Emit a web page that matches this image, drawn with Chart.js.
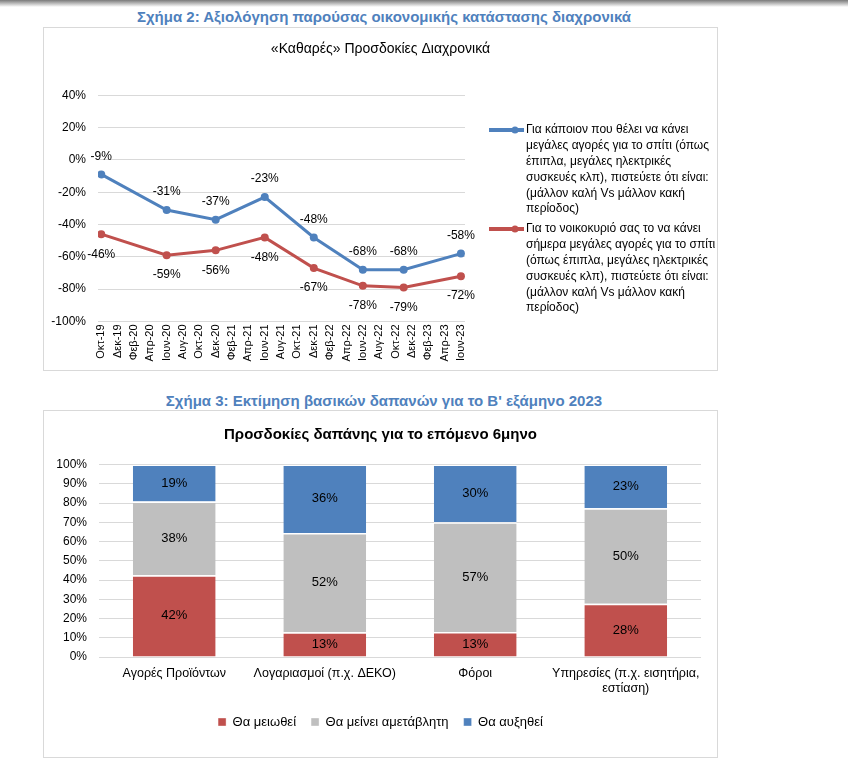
<!DOCTYPE html>
<html>
<head>
<meta charset="utf-8">
<script src="https://cdn.jsdelivr.net/npm/chart.js@4.4.1/dist/chart.umd.min.js"></script>
<style>
html,body{margin:0;padding:0;background:#fff;width:848px;height:768px;overflow:hidden;font-family:"Liberation Sans",Arial,sans-serif;}
.topbar{position:absolute;left:0;top:0;width:848px;height:7px;background:linear-gradient(#7a7a7a,#ffffff);}
.fig{position:absolute;left:43px;width:682px;text-align:center;color:#4F81BD;font-weight:bold;font-size:15px;line-height:17px;white-space:nowrap;}
.box{position:absolute;left:43px;width:675px;border:1px solid #D9D9D9;box-sizing:border-box;background:#fff;}
.box canvas{position:absolute;left:-1px;top:-1px;}
</style>
</head>
<body>
<div class="topbar"></div>
<div class="fig" style="top:8px">Σχήμα 2: Αξιολόγηση παρούσας οικονομικής κατάστασης διαχρονικά</div>
<div class="box" style="top:27px;height:344px"><canvas id="lineChart" width="675" height="344" style="width:675px;height:344px"></canvas></div>
<div class="fig" style="top:392px">Σχήμα 3: Εκτίμηση βασικών δαπανών για το Β' εξάμηνο 2023</div>
<div class="box" style="top:410px;height:348px"><canvas id="barChart" width="675" height="348" style="width:675px;height:348px"></canvas></div>
<script>
// ---------- Line chart data ----------
const lineTitle = '«Καθαρές» Προσδοκίες Διαχρονικά';
const axisMonthLabels = ['Οκτ-19','Δεκ-19','Φεβ-20','Απρ-20','Ιουν-20','Αυγ-20','Οκτ-20','Δεκ-20','Φεβ-21','Απρ-21','Ιουν-21','Αυγ-21','Οκτ-21','Δεκ-21','Φεβ-22','Απρ-22','Ιουν-22','Αυγ-22','Οκτ-22','Δεκ-22','Φεβ-23','Απρ-23','Ιουν-23'];
const axisStartDate = '2019-10';
const surveyDates = ['2019-10','2020-06','2020-12','2021-06','2021-12','2022-06','2022-11','2023-06'];
const someoneBuying = [-9,-31,-37,-23,-48,-68,-68,-58];
const householdBuying = [-46,-59,-56,-48,-67,-78,-79,-72];
const lineYTicks = [40,20,0,-20,-40,-60,-80,-100];
const legendSomeone = ['Για κάποιον που θέλει να κάνει','μεγάλες αγορές για το σπίτι (όπως','έπιπλα, μεγάλες ηλεκτρικές','συσκευές κλπ), πιστεύετε ότι είναι:','(μάλλον καλή Vs μάλλον κακή','περίοδος)'];
const legendHousehold = ['Για το νοικοκυριό σας το να κάνει','σήμερα μεγάλες αγορές για το σπίτι','(όπως έπιπλα, μεγάλες ηλεκτρικές','συσκευές κλπ), πιστεύετε ότι είναι:','(μάλλον καλή Vs μάλλον κακή','περίοδος)'];

// ---------- Bar chart data ----------
const barTitle = 'Προσδοκίες δαπάνης για το επόμενο 6μηνο';
const spendCategories = ['Αγορές Προϊόντων','Λογαριασμοί (π.χ. ΔΕΚΟ)','Φόροι',['Υπηρεσίες (π.χ. εισητήρια,','εστίαση)']];
const seriesNames = ['Θα μειωθεί','Θα μείνει αμετάβλητη','Θα αυξηθεί'];
const willDecrease = [42,13,13,28];
const willStaySame = [38,52,57,50];
const willIncrease = [19,36,30,23];

const BLUE = '#4F81BD', RED = '#C0504D', GREY = '#BFBFBF';
const FONT = '"Liberation Sans", Arial, sans-serif';
Chart.defaults.font.family = FONT;
Chart.defaults.color = '#000';
Chart.defaults.animation = false;

function monthsSince(start, d) {
  const [y0,m0] = start.split('-').map(Number);
  const [y,m] = d.split('-').map(Number);
  return (y - y0) * 12 + (m - m0);
}
const surveyX = surveyDates.map(d => monthsSince(axisStartDate, d));
const tickX = axisMonthLabels.map((_, i) => i * 2);

const spacerAxis = w => ({
  position: 'right', display: true,
  grid: {display: false, drawTicks: false}, border: {display: false},
  ticks: {display: false}, afterFit: s => { s.width = w; }
});

const lineLabelPlugin = {
  id: 'lineLabels',
  afterDatasetsDraw(chart) {
    const ctx = chart.ctx;
    ctx.save();
    ctx.font = '12px ' + FONT;
    ctx.fillStyle = '#000';
    ctx.textAlign = 'center';
    ctx.textBaseline = 'middle';
    chart.data.datasets.forEach((ds, di) => {
      const meta = chart.getDatasetMeta(di);
      meta.data.forEach((pt, i) => {
        const off = di === 0 ? -18 : 20;
        ctx.fillText(ds.data[i].y + '%', pt.x, pt.y + off);
      });
    });
    ctx.restore();
  }
};

const sideLegendPlugin = {
  id: 'sideLegend',
  afterDraw(chart) {
    const ctx = chart.ctx;
    const x0 = chart.chartArea.right + 24;
    const groups = [
      {color: BLUE, lines: legendSomeone, top: 103},
      {color: RED, lines: legendHousehold, top: 202}
    ];
    ctx.save();
    ctx.font = '12px ' + FONT;
    ctx.textBaseline = 'middle';
    ctx.textAlign = 'left';
    groups.forEach(g => {
      ctx.strokeStyle = g.color;
      ctx.lineWidth = 4;
      ctx.beginPath();
      ctx.moveTo(x0, g.top);
      ctx.lineTo(x0 + 35, g.top);
      ctx.stroke();
      ctx.fillStyle = g.color;
      ctx.beginPath();
      ctx.arc(x0 + 26, g.top, 3.5, 0, Math.PI * 2);
      ctx.fill();
      ctx.fillStyle = '#000';
      g.lines.forEach((t, i) => ctx.fillText(t, x0 + 37, g.top + i * 15.8));
    });
    ctx.restore();
  }
};

new Chart(document.getElementById('lineChart'), {
  type: 'line',
  data: {
    datasets: [
      {label: legendSomeone.join(' '), data: surveyX.map((x, i) => ({x, y: someoneBuying[i]})), borderColor: BLUE, backgroundColor: BLUE, borderWidth: 3, pointRadius: 4, pointBorderWidth: 0, pointBackgroundColor: BLUE, tension: 0},
      {label: legendHousehold.join(' '), data: surveyX.map((x, i) => ({x, y: householdBuying[i]})), borderColor: RED, backgroundColor: RED, borderWidth: 3, pointRadius: 4, pointBorderWidth: 0, pointBackgroundColor: RED, tension: 0}
    ]
  },
  options: {
    responsive: false,
    layout: {padding: 0},
    plugins: {
      legend: {display: false},
      tooltip: {enabled: false},
      title: {display: true, text: lineTitle, font: {size: 14, weight: 'normal'}, color: '#000', padding: {top: 13.6, bottom: 37.9}}
    },
    scales: {
      x: {
        type: 'linear', min: -0.4, max: 44.5,
        afterBuildTicks: s => { s.ticks = tickX.map(v => ({value: v})); },
        afterFit: s => { s.height = 49.6; },
        grid: {display: false, drawTicks: false},
        border: {display: false},
        ticks: {autoSkip: false, minRotation: 90, maxRotation: 90, padding: 3, font: {size: 11}, color: '#000',
          callback: v => axisMonthLabels[Math.round(v / 2)]}
      },
      y: {
        min: -100, max: 40,
        afterBuildTicks: s => { s.ticks = lineYTicks.map(v => ({value: v})); },
        afterFit: s => { s.width = 55; },
        grid: {color: '#D9D9D9', drawTicks: false},
        border: {display: false},
        ticks: {padding: 12, font: {size: 12}, color: '#000', callback: v => v + '%'}
      },
      yRightSpace: spacerAxis(253)
    }
  },
  plugins: [lineLabelPlugin, sideLegendPlugin]
});

// ---------- Bar chart ----------
const totals = willDecrease.map((v, i) => v + willStaySame[i] + willIncrease[i]);
const share = arr => arr.map((v, i) => v / totals[i] * 100);
const rawSeries = [willDecrease, willStaySame, willIncrease];

const barLabelPlugin = {
  id: 'barLabels',
  afterDatasetsDraw(chart) {
    const ctx = chart.ctx;
    ctx.save();
    ctx.font = '13px ' + FONT;
    ctx.fillStyle = '#000';
    ctx.textAlign = 'center';
    ctx.textBaseline = 'middle';
    chart.data.datasets.forEach((ds, di) => {
      chart.getDatasetMeta(di).data.forEach((bar, i) => {
        const p = bar.getProps(['x', 'y', 'base'], true);
        ctx.fillText(rawSeries[di][i] + '%', p.x, (p.y + p.base) / 2);
      });
    });
    ctx.restore();
  }
};

new Chart(document.getElementById('barChart'), {
  type: 'bar',
  data: {
    labels: spendCategories,
    datasets: [
      {label: seriesNames[0], data: share(willDecrease), backgroundColor: RED},
      {label: seriesNames[1], data: share(willStaySame), backgroundColor: GREY},
      {label: seriesNames[2], data: share(willIncrease), backgroundColor: BLUE}
    ].map(d => Object.assign(d, {borderColor: '#fff', borderWidth: {top: 1.5, left: 0, right: 0, bottom: 0}, borderSkipped: false, barPercentage: 0.55, categoryPercentage: 1}))
  },
  options: {
    responsive: false,
    layout: {padding: {left: 0, right: 0, top: 0, bottom: 19.5}},
    plugins: {
      tooltip: {enabled: false},
      title: {display: true, text: barTitle, font: {size: 15, weight: 'bold'}, color: '#000', padding: {top: 16, bottom: 20.5}},
      legend: {position: 'bottom', labels: {boxWidth: 8, boxHeight: 8, padding: 15, font: {size: 13}, color: '#000'}}
    },
    scales: {
      x: {
        stacked: true,
        afterFit: s => { s.height = 43.5; },
        grid: {display: false, drawTicks: false},
        border: {display: false},
        ticks: {padding: 9, font: {size: 12.5}, color: '#000', maxRotation: 0, autoSkip: false}
      },
      y: {
        stacked: true, min: 0, max: 100,
        afterFit: s => { s.width = 56; },
        grid: {color: '#D9D9D9', drawTicks: false},
        border: {display: false},
        ticks: {stepSize: 10, padding: 12, font: {size: 12}, color: '#000', callback: v => v + '%'}
      },
      yRightSpace: spacerAxis(17)
    }
  },
  plugins: [barLabelPlugin]
});
</script>
</body>
</html>
